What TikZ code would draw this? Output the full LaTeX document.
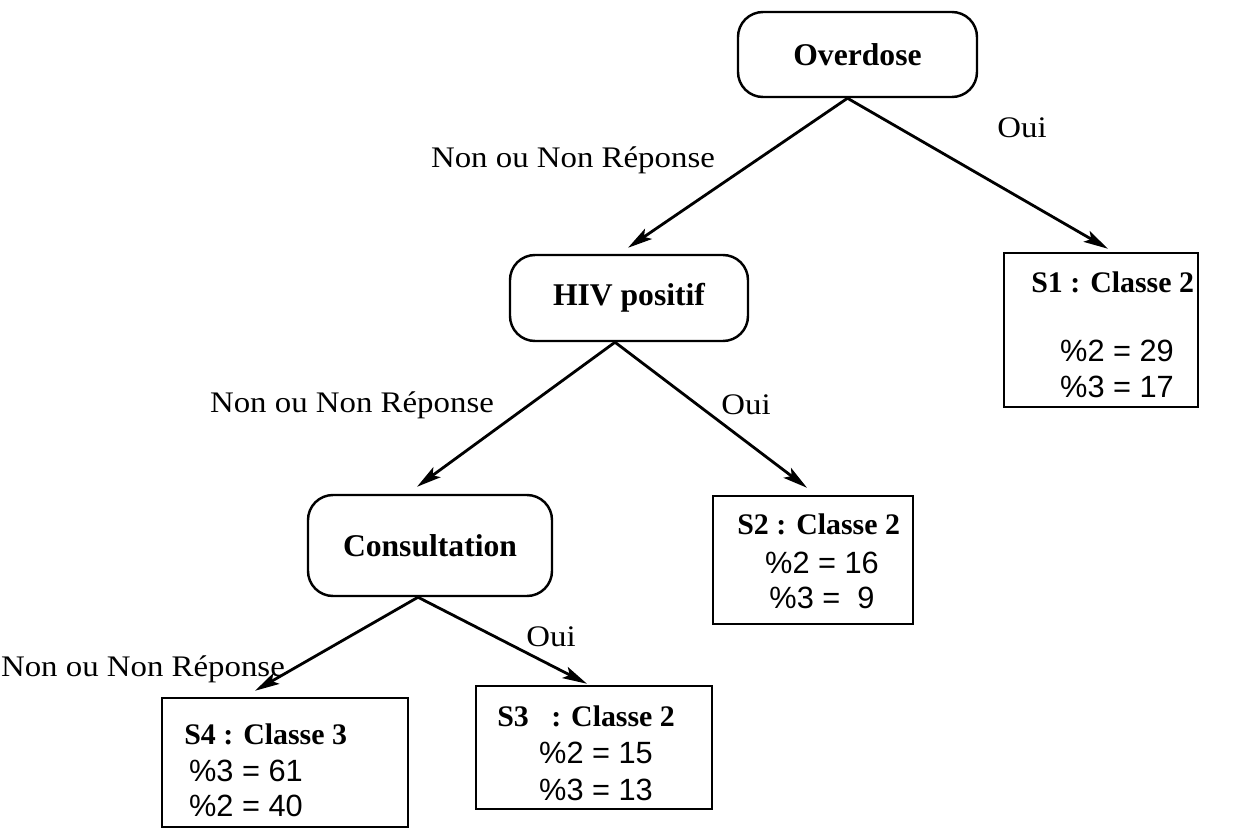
\documentclass[tikz,border=0pt]{standalone}
\usepackage{fontspec}
\setmainfont{Liberation Serif}
\setsansfont{Liberation Sans}
\newfontfamily\lblfont[FakeStretch=1.1]{Liberation Serif}
\usetikzlibrary{arrows.meta,calc}
\tikzset{
  px/.style={x=0.02cm,y=-0.02cm},
  roundbox/.style={draw,line width=1.4pt,rounded corners=25*0.02cm,inner sep=0pt,
    font=\fontsize{18}{20}\selectfont\bfseries},
  leafbox/.style={draw,line width=1.4pt,inner sep=0pt},
  title/.style={font=\fontsize{17}{20}\selectfont\bfseries,inner sep=0pt,anchor=west},
  pct/.style={font=\sffamily\fontsize{17.5}{20}\selectfont,inner sep=0pt},
  lbl/.style={font=\lblfont\fontsize{17}{20}\selectfont,inner sep=0pt},
  arr/.style={line width=1.6pt,-{Stealth[length=14pt,width=7pt,inset=3pt]}},
}
\begin{document}
\begin{tikzpicture}[px]
\useasboundingbox (0,0) rectangle (1255,829);
% decision nodes
\node[roundbox,minimum width=239*0.02cm,minimum height=85*0.02cm] (od) at (857.5,54.5) {Overdose};
\node[roundbox,minimum width=238*0.02cm,minimum height=86*0.02cm] (hiv) at (629,298) {HIV positif};
\node[roundbox,minimum width=244*0.02cm,minimum height=101*0.02cm] (cons) at (430,545.5) {Consultation};
% leaf boxes
\node[leafbox,minimum width=194*0.02cm,minimum height=154*0.02cm] (s1) at (1101,330) {};
\node[leafbox,minimum width=200*0.02cm,minimum height=128*0.02cm] (s2) at (813,560) {};
\node[leafbox,minimum width=246*0.02cm,minimum height=129*0.02cm] (s4) at (285,762.5) {};
\node[leafbox,minimum width=236*0.02cm,minimum height=123*0.02cm] (s3) at (594,747.5) {};
% leaf texts
\node[title] (s1t) at (1031,282) {S1 : Classe 2};
\node[pct] (s1a) at (1117,351) {\%2 = 29};
\node[pct] (s1b) at (1117,387) {\%3 = 17};
\node[title] (s2t) at (737,524) {S2 : Classe 2};
\node[pct] (s2a) at (822,563) {\%2 = 16};
\node[pct] (s2b) at (822,598) {\%3 =\ \ 9};
\node[title] (s4t) at (184,734) {S4 : Classe 3};
\node[pct] (s4a) at (246,771) {\%3 = 61};
\node[pct] (s4b) at (246,806) {\%2 = 40};
\node[title] (s3t) at (497,716) {S3\ \ \ : Classe 2};
\node[pct] (s3a) at (596,753) {\%2 = 15};
\node[pct] (s3b) at (596,790) {\%3 = 13};
% junction points
\coordinate (odj) at ($(od.south)+(-10,0)$);
\coordinate (hivj) at ($(hiv.south)+(-14,0)$);
\coordinate (consj) at ($(cons.south)+(-12,0)$);
% connectors
\draw[arr] (odj) -- ($(hiv.north)+(-1,-6)$);
\draw[arr] (odj) -- ($(s1.north)+(7,-3)$);
\draw[arr] (hivj) -- ($(cons.north)+(-13,-7)$);
\draw[arr] (hivj) -- ($(s2.north)+(-6,-7)$);
\draw[arr] (consj) -- ($(s4.north)+(-30,-6)$);
\draw[arr] (consj) -- ($(s3.north)+(-7,-1)$);
% branch labels
\node[lbl] (l1) at (573,160) {Non ou Non Réponse};
\node[lbl] (o1) at (1022,128) {Oui};
\node[lbl] (l2) at (352,405) {Non ou Non Réponse};
\node[lbl] (o2) at (746,405) {Oui};
\node[lbl] (l3) at (143,669) {Non ou Non Réponse};
\node[lbl] (o3) at (551,637) {Oui};
\end{tikzpicture}
\end{document}
